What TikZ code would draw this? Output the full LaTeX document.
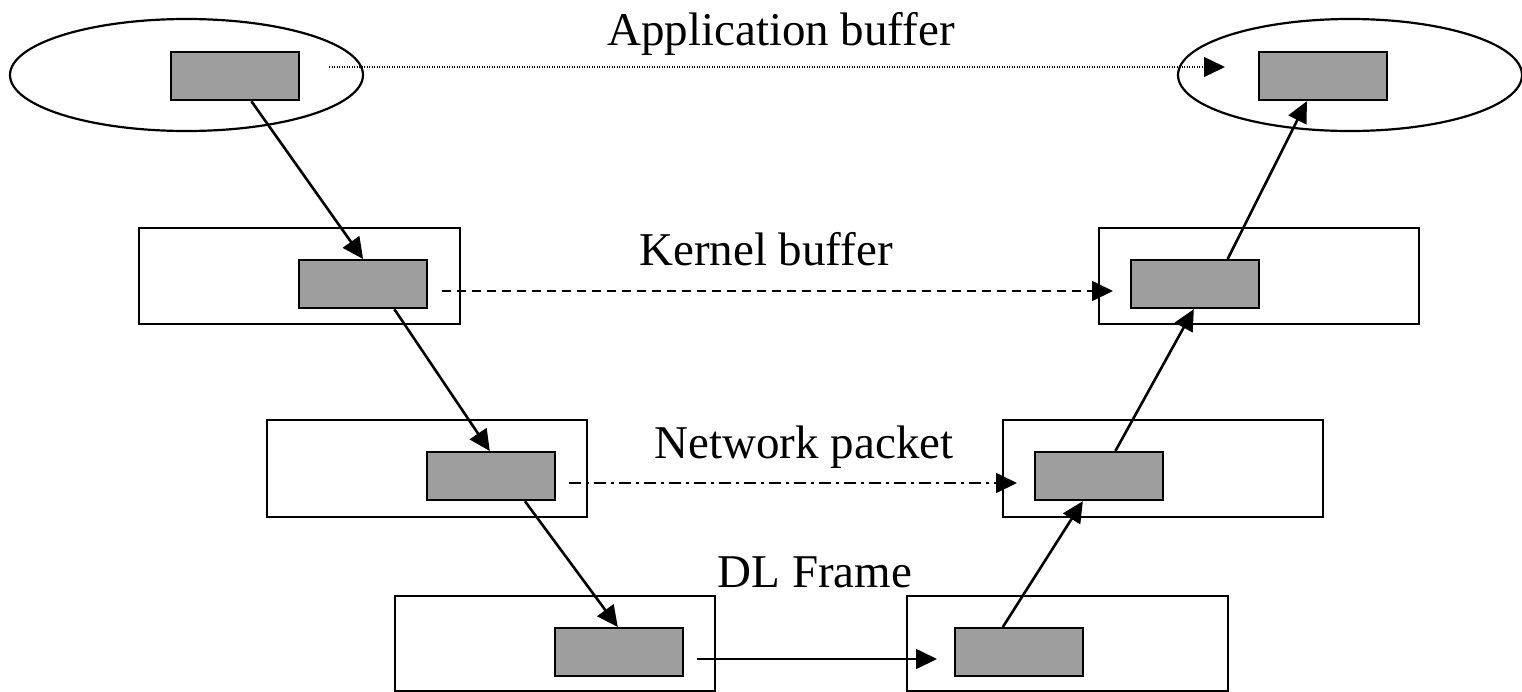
\documentclass[tikz,border=0pt]{standalone}
\usepackage{fontspec}
\setmainfont{Liberation Serif}
\usetikzlibrary{arrows.meta,calc,shapes.geometric}
\definecolor{boxgray}{RGB}{158,158,158}
\tikzset{
  frame/.style={draw=black, line width=2.2pt, fill=white, rectangle, inner sep=0pt, anchor=north west},
  buf/.style={draw=black, line width=2.2pt, fill=boxgray, rectangle, inner sep=0pt, anchor=north west,
              minimum width=128pt, minimum height=48pt},
  region/.style={draw=black, line width=2.2pt, ellipse, inner sep=0pt},
  tip/.style={-{Triangle[length=21pt,width=20pt]}},
  flow/.style={line width=2.6pt, tip},
  label/.style={font=\fontsize{47}{56}\selectfont, anchor=base, inner sep=0pt},
}
\begin{document}
\begin{tikzpicture}[x=1pt,y=-1pt]
\useasboundingbox (0,0) rectangle (1522,691);
\begin{scope}
\clip (0,0) rectangle (1522,691);
% application level
\node[region, minimum width=353pt, minimum height=112pt] (appL) at (186.5,75) {};
\node[region, minimum width=344pt, minimum height=112pt] (appR) at (1350,75) {};
\node[buf] (gA1) at (170,51) {};
\node[buf] (gA2) at (1258,51) {};
% kernel level
\node[frame, minimum width=321pt, minimum height=96pt] (kL) at (138,227) {};
\node[frame, minimum width=320pt, minimum height=96pt] (kR) at (1098,227) {};
\node[buf] (gK1) at (298,259) {};
\node[buf] (gK2) at (1130,259) {};
% network level
\node[frame, minimum width=320pt, minimum height=97pt] (nL) at (266,419) {};
\node[frame, minimum width=320pt, minimum height=97pt] (nR) at (1002,419) {};
\node[buf] (gN1) at (426,451) {};
\node[buf] (gN2) at (1034,451) {};
% data-link level
\node[frame, minimum width=320pt, minimum height=95pt] (dL) at (394,595) {};
\node[frame, minimum width=321pt, minimum height=95pt] (dR) at (906,595) {};
\node[buf] (gD1) at (554,627) {};
\node[buf] (gD2) at (954,627) {};
\end{scope}

% layer labels
\node[label] (tA) at (781,45) {Application buffer};
\node[label] (tK) at (766,265) {Kernel buffer};
\node[label] (tN) at (804,458) {Network packet};
\node[label] (tD) at (815,587) {DL Frame};

% peer-to-peer endpoints
\coordinate (pA1) at (329,67);  \coordinate (pA2) at (1225,67);
\coordinate (pK1) at (442,291); \coordinate (pK2) at (1113,291);
\coordinate (pN1) at (569,483); \coordinate (pN2) at (1017,483);
\coordinate (pD1) at (697,659); \coordinate (pD2) at (937,659);

\draw[line width=1.2pt, dash pattern=on 1.2pt off 1.3pt, tip] (pA1) -- (pA2);
\draw[line width=1.8pt, dash pattern=on 9pt off 6pt, tip] (pK1) -- (pK2);
\draw[line width=1.8pt, dash pattern=on 12pt off 5pt on 3pt off 5pt, tip] (pN1) -- (pN2);
\draw[line width=1.8pt, tip] (pD1) -- (pD2);

% sending side: down the stack
\draw[flow] ($(gA1.south west)!0.625!(gA1.south east)$) -- ($(gK1.north west)!0.5!(gK1.north east)$);
\draw[flow] ($(gK1.south west)!0.74!(gK1.south east)$) -- ($(gN1.north west)!0.49!(gN1.north east)$);
\draw[flow] ($(gN1.south west)!0.76!(gN1.south east)$) -- ($(gD1.north west)!0.49!(gD1.north east)$);
% receiving side: up the stack
\draw[flow] ($(gD2.north west)!0.375!(gD2.north east)$) -- ($(gN2.south west)!0.375!(gN2.south east)$);
\draw[flow] ($(gN2.north west)!0.625!(gN2.north east)$) -- ($(gK2.south west)!0.49!(gK2.south east)$);
\draw[flow] ($(gK2.north west)!0.75!(gK2.north east)$) -- ($(gA2.south west)!0.375!(gA2.south east)$);
\end{tikzpicture}
\end{document}
